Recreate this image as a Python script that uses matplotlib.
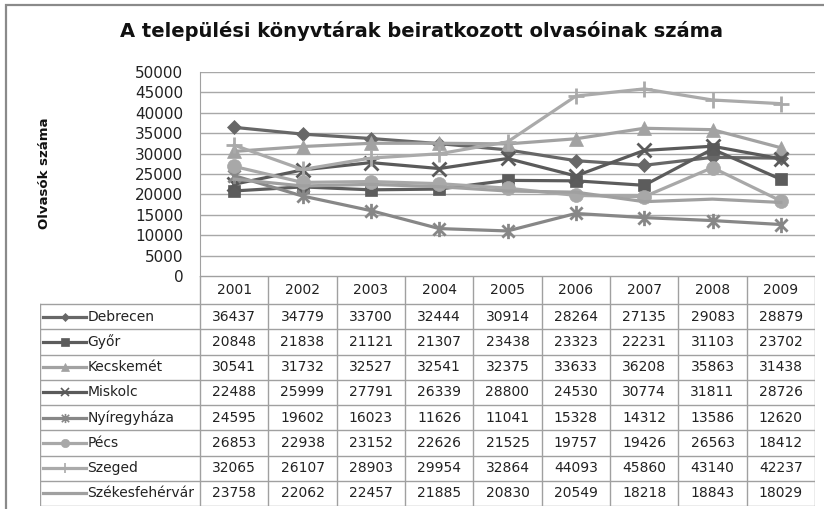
import numpy as np
import matplotlib
matplotlib.use("Agg")
import matplotlib.pyplot as plt
from matplotlib.path import Path
from matplotlib.patches import Rectangle

years = ["2001", "2002", "2003", "2004", "2005", "2006", "2007", "2008", "2009"]

cities = ["Debrecen", "Győr", "Kecskemét", "Miskolc", "Nyíregyháza",
          "Pécs", "Szeged", "Székesfehérvár"]

debrecen = [36437, 34779, 33700, 32444, 30914, 28264, 27135, 29083, 28879]
gyor = [20848, 21838, 21121, 21307, 23438, 23323, 22231, 31103, 23702]
kecskemet = [30541, 31732, 32527, 32541, 32375, 33633, 36208, 35863, 31438]
miskolc = [22488, 25999, 27791, 26339, 28800, 24530, 30774, 31811, 28726]
nyiregyhaza = [24595, 19602, 16023, 11626, 11041, 15328, 14312, 13586, 12620]
pecs = [26853, 22938, 23152, 22626, 21525, 19757, 19426, 26563, 18412]
szeged = [32065, 26107, 28903, 29954, 32864, 44093, 45860, 43140, 42237]
szekesfehervar = [23758, 22062, 22457, 21885, 20830, 20549, 18218, 18843, 18029]

series = [debrecen, gyor, kecskemet, miskolc, nyiregyhaza, pecs, szeged, szekesfehervar]

# asterisk marker like excel's "star": an x with a vertical bar
star = Path([(0, -1), (0, 1), (-0.8, -0.8), (0.8, 0.8), (-0.8, 0.8), (0.8, -0.8)],
            [Path.MOVETO, Path.LINETO, Path.MOVETO, Path.LINETO, Path.MOVETO, Path.LINETO])

# (color, marker, markersize, filled)
styles = [
    ("#676767", "D", 7.5, True),
    ("#5c5c5c", "s", 9, True),
    ("#a2a2a2", "^", 10, True),
    ("#5a5a5a", "x", 9.5, False),
    ("#878787", star, 11, False),
    ("#a8a8a8", "o", 10, True),
    ("#aaaaaa", "+", 12, False),
    ("#a0a0a0", None, 0, True),
]

font = "DejaVu Sans"
plt.rcParams["font.family"] = font

W, H = 824, 509
fig = plt.figure(figsize=(W / 100, H / 100), dpi=100)

# outer frame (only top and left edges are visible in the original)
fig.patches.append(Rectangle((6 / W, -0.1), 1.2, (H - 5) / H + 0.1,
                             transform=fig.transFigure, fill=False,
                             edgecolor="#8a8a8a", lw=1.6))

ax_left, ax_right = 200, 815
ax_top, ax_bot = 72, 276
ax = fig.add_axes([ax_left / W, (H - ax_bot) / H,
                   (ax_right - ax_left) / W, (ax_bot - ax_top) / H])

x = np.arange(len(years))
for vals, (col, mk, ms, filled) in zip(series, styles):
    ax.plot(x, vals, color=col, lw=2.3, marker=mk, markersize=ms,
            markeredgewidth=2.0 if not filled else 0.5,
            markerfacecolor=col, markeredgecolor=col, zorder=3)

ax.set_xlim(-0.5, len(years) - 0.5)
ax.set_ylim(0, 50000)
ax.set_yticks(np.arange(0, 50001, 5000))
ax.tick_params(axis="y", length=0, labelsize=11, pad=12, labelcolor="#222222")
ax.set_xticks([])
ax.grid(axis="y", color="#a8a8a8", lw=1)
ax.set_axisbelow(True)
for side in ["top", "right", "bottom"]:
    ax.spines[side].set_visible(False)
ax.spines["left"].set_color("#a0a0a0")

fig.text(422 / W, 1 - 31 / H, "A települési könyvtárak beiratkozott olvasóinak száma",
         ha="center", va="center", fontsize=14, fontweight="bold", color="#111111")
fig.text(45 / W, 1 - 173 / H, "Olvasók száma", rotation=90, ha="center", va="center",
         fontsize=9.5, fontweight="bold", color="#111111")

# data table below the chart, x shares the category scale of the plot
tab_left, tab_bot = 40, 506
unit = (ax_right - ax_left) / len(years)
lab_w = (ax_left - tab_left) / unit
tax = fig.add_axes([tab_left / W, (H - tab_bot) / H,
                    (ax_right - tab_left) / W, (tab_bot - ax_bot) / H])
tax.set_xlim(-0.5 - lab_w, len(years) - 0.5)
tab_h = tab_bot - ax_bot
tax.set_ylim(tab_h, 0)
tax.axis("off")

head_h = 28
row_h = (tab_h - head_h) / len(cities)
gc = "#a0a0a0"
x0 = -0.5 - lab_w
x1 = len(years) - 0.5

# horizontal lines
tax.plot([-0.5, x1], [0, 0], color=gc, lw=1)
for i in range(len(cities) + 1):
    y = head_h + i * row_h
    tax.plot([x0, x1], [y, y], color=gc, lw=1)
# vertical lines
tax.plot([x0, x0], [head_h, tab_h], color=gc, lw=1)
for j in range(len(years) + 1):
    tax.plot([j - 0.5, j - 0.5], [0, tab_h], color=gc, lw=1)

for j, yr in enumerate(years):
    tax.text(j, head_h / 2, yr, ha="center", va="center", fontsize=10, color="#222222")

for i, (city, vals, (col, mk, ms, filled)) in enumerate(zip(cities, series, styles)):
    yc = head_h + (i + 0.5) * row_h
    la, lb = x0 + 0.05, x0 + 0.68
    tax.plot([la, lb], [yc, yc], color=col, lw=2.3)
    if mk is not None:
        tax.plot([(la + lb) / 2], [yc], marker=mk, markersize=ms * 0.6, color=col,
                 markeredgewidth=1.2 if not filled else 0.5)
    tax.text(lb + 0.01, yc, city, ha="left", va="center", fontsize=10, color="#222222")
    for j, v in enumerate(vals):
        tax.text(j, yc, str(v), ha="center", va="center", fontsize=10, color="#222222")

fig.savefig("out.png", dpi=100)
